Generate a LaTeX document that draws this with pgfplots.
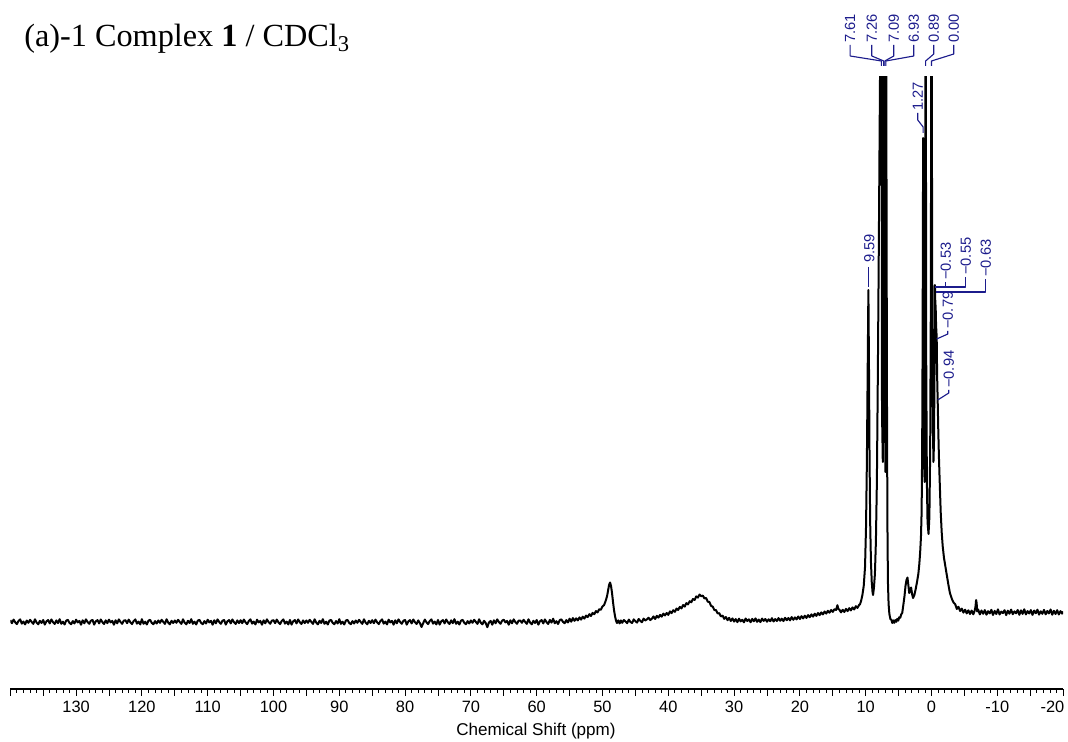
\documentclass[border=0pt]{standalone}
\usepackage{fontspec}
\setmainfont{Liberation Sans}
\newfontfamily\titlefont{Liberation Serif}
\usepackage{pgfplots}
\pgfplotsset{compat=1.18}
\usepackage{pgfplotstable}
\definecolor{peaklabel}{RGB}{28,28,140}

% 1H spectrum: chemical shift (ppm) and intensity (arbitrary units)
\pgfplotstableread[row sep=\\]{
ppm I\\
140 1.8\\139.75 -1.2\\139.5 2.4\\139.25 -0.3\\139 -2.1\\138.75 1.0\\138.5 2.6\\138.25 -1.6\\138 0.4\\137.75 -2.4\\
137.5 1.5\\137.25 -0.8\\137 2.2\\136.75 0.1\\136.5 -1.9\\136.25 2.7\\136 -0.6\\135.75 -2.3\\135.5 1.2\\135.25 -1.0\\
135 2.0\\134.75 -2.6\\134.5 0.7\\134.25 1.9\\134 -1.4\\133.75 2.5\\133.5 -0.2\\133.25 -2.0\\133 1.6\\132.75 -1.1\\
132.5 2.8\\132.25 -1.8\\132 0.3\\131.75 -2.5\\131.5 1.4\\131.25 2.1\\131 -0.9\\130.75 -2.2\\130.5 0.9\\130.25 -1.5\\
130 2.3\\129.75 -0.4\\129.5 1.1\\129.25 -2.7\\129 1.7\\128.75 -1.3\\128.5 2.6\\128.25 0.0\\128 -1.8\\127.75 1.3\\
127.5 2.0\\127.25 -2.6\\127 0.7\\126.75 1.9\\126.5 -1.4\\126.25 2.5\\126 -0.2\\125.75 -2.0\\125.5 1.6\\125.25 -1.1\\
125 2.3\\124.75 -0.4\\124.5 1.1\\124.25 -2.7\\124 1.7\\123.75 -1.3\\123.5 2.6\\123.25 0.0\\123 -1.8\\122.75 1.3\\
122.5 1.8\\122.25 -1.2\\122 2.4\\121.75 -0.3\\121.5 -2.1\\121.25 1.0\\121 2.6\\120.75 -1.6\\120.5 0.4\\120.25 -2.4\\
120 2.8\\119.75 -1.8\\119.5 0.3\\119.25 -2.5\\119 1.4\\118.75 2.1\\118.5 -0.9\\118.25 -2.2\\118 0.9\\117.75 -1.5\\
117.5 1.5\\117.25 -0.8\\117 2.2\\116.75 0.1\\116.5 -1.9\\116.25 2.7\\116 -0.6\\115.75 -2.3\\115.5 1.2\\115.25 -1.0\\
115 1.5\\114.75 -0.8\\114.5 2.2\\114.25 0.1\\114 -1.9\\113.75 2.7\\113.5 -0.6\\113.25 -2.3\\113 1.2\\112.75 -1.0\\
112.5 2.8\\112.25 -1.8\\112 0.3\\111.75 -2.5\\111.5 1.4\\111.25 2.1\\111 -0.9\\110.75 -2.2\\110.5 0.9\\110.25 -1.5\\
110 2.3\\109.75 -0.4\\109.5 1.1\\109.25 -2.7\\109 1.7\\108.75 -1.3\\108.5 2.6\\108.25 0.0\\108 -1.8\\107.75 1.3\\
107.5 2.0\\107.25 -2.6\\107 0.7\\106.75 1.9\\106.5 -1.4\\106.25 2.5\\106 -0.2\\105.75 -2.0\\105.5 1.6\\105.25 -1.1\\
105 1.8\\104.75 -1.2\\104.5 2.4\\104.25 -0.3\\104 -2.1\\103.75 1.0\\103.5 2.6\\103.25 -1.6\\103 0.4\\102.75 -2.4\\
102.5 2.3\\102.25 -0.4\\102 1.1\\101.75 -2.7\\101.5 1.7\\101.25 -1.3\\101 2.6\\100.75 0.0\\100.5 -1.8\\100.25 1.3\\
100 1.8\\99.75 -1.2\\99.5 2.4\\99.25 -0.3\\99 -2.1\\98.75 1.0\\98.5 2.6\\98.25 -1.6\\98 0.4\\97.75 -2.4\\
97.5 2.0\\97.25 -2.6\\97 0.7\\96.75 1.9\\96.5 -1.4\\96.25 2.5\\96 -0.2\\95.75 -2.0\\95.5 1.6\\95.25 -1.1\\
95 1.5\\94.75 -0.8\\94.5 2.2\\94.25 0.1\\94 -1.9\\93.75 2.7\\93.5 -0.6\\93.25 -2.3\\93 1.2\\92.75 -1.0\\
92.5 2.8\\92.25 -1.8\\92 0.3\\91.75 -2.5\\91.5 1.4\\91.25 2.1\\91 -0.9\\90.75 -2.2\\90.5 0.9\\90.25 -1.5\\
90 2.8\\89.75 -1.8\\89.5 0.3\\89.25 -2.5\\89 1.4\\88.75 2.1\\88.5 -0.9\\88.25 -2.2\\88 0.9\\87.75 -1.5\\
87.5 1.5\\87.25 -0.8\\87 2.2\\86.75 0.1\\86.5 -1.9\\86.25 2.7\\86 -0.6\\85.75 -2.3\\85.5 1.2\\85.25 -1.0\\
85 1.8\\84.75 -1.2\\84.5 2.4\\84.25 -0.3\\84 -2.1\\83.75 1.0\\83.5 2.6\\83.25 -1.6\\83 0.4\\82.75 -2.4\\
82.5 2.3\\82.25 -0.4\\82 1.1\\81.75 -2.7\\81.5 1.7\\81.25 -1.3\\81 2.6\\80.75 0.0\\80.5 -1.8\\80.25 1.3\\
80 2.0\\79.75 -2.6\\79.5 0.7\\79.25 1.9\\79 -1.4\\78.75 2.5\\78.5 -0.2\\78.25 -2.0\\78 1.6\\77.75 -1.1\\
77.5 -5.0\\77.25 -1.2\\77 2.4\\76.75 -0.3\\76.5 -2.1\\76.25 1.0\\76 2.6\\75.75 -1.6\\75.5 0.4\\75.25 -2.4\\
75 2.0\\74.75 -2.6\\74.5 0.7\\74.25 1.9\\74 -1.4\\73.75 2.5\\73.5 -0.2\\73.25 -2.0\\73 1.6\\72.75 -1.1\\
72.5 2.8\\72.25 -1.8\\72 0.3\\71.75 -2.5\\71.5 1.4\\71.25 2.1\\71 -0.9\\70.75 -2.2\\70.5 0.9\\70.25 -1.5\\
70 1.5\\69.75 -0.8\\69.5 2.2\\69.25 0.1\\69 -1.9\\68.75 2.7\\68.5 -0.6\\68.25 -2.3\\68 1.2\\67.75 -1.0\\
67.5 -5.2\\67.25 -0.4\\67 1.1\\66.75 -2.7\\66.5 1.7\\66.25 -1.3\\66 2.6\\65.75 0.0\\65.5 -1.8\\65.25 1.3\\
65 2.3\\64.75 -0.4\\64.5 1.1\\64.25 -2.7\\64 1.7\\63.75 -1.3\\63.5 2.6\\63.25 0.0\\63 -1.8\\62.75 1.3\\
62.5 1.5\\62.25 -0.8\\62 2.2\\61.75 0.1\\61.5 -1.9\\61.25 2.7\\61 -0.6\\60.75 -2.3\\60.5 1.2\\60.25 -1.0\\
60 2.0\\59.75 -2.6\\59.5 0.7\\59.25 1.9\\59 -1.4\\58.75 2.5\\58.5 -0.2\\58.25 -2.0\\58 2.1\\57.75 -0.6\\
57.5 3.3\\57.25 -1.3\\57 0.8\\56.75 -2.0\\56.5 1.9\\56.25 2.6\\56 0.1\\55.75 -1.2\\55.5 1.9\\55.25 -0.5\\
55 3.3\\54.75 0.3\\54.5 3.9\\54.25 1.2\\
54 3.6\\53.75 1.6\\53.5 4.6\\53.25 2.4\\53 5.3\\52.75 3.4\\52.5 6.4\\52.25 4.9\\52 7.8\\51.75 6.0\\
51.5 9.1\\51.25 7.8\\51 10.9\\50.75 9.6\\50.5 12.8\\50.25 12.2\\50 15.5\\49.75 17.0\\49.5 21.5\\49.3 26.0\\
49.15 31.5\\49 37.0\\48.85 39.5\\48.7 36.0\\48.55 29.0\\48.4 20.0\\48.25 12.0\\48.1 6.0\\47.95 1.5\\47.8 -1.0\\
47.6 1.6\\47.4 -1.4\\47.2 1.5\\
47 -0.8\\46.75 2.0\\46.5 0.4\\46.25 -1.2\\46 2.4\\45.75 0.0\\45.5 -1.0\\45.25 2.6\\45 0.8\\44.75 -0.6\\
44.5 3.0\\44.25 1.1\\44 -0.2\\43.75 3.4\\43.5 1.5\\43.25 2.6\\43 4.3\\42.75 1.9\\42.5 3.2\\42.25 5.6\\
42 3.0\\41.75 6.2\\41.5 4.4\\41.25 7.1\\41 5.3\\40.75 8.4\\40.5 6.6\\40.25 9.0\\40 7.1\\39.75 10.6\\
39.5 8.9\\39.25 11.8\\39 10.2\\38.75 13.5\\38.5 12.0\\38.25 15.1\\38 13.6\\37.75 17.0\\37.5 15.4\\37.25 18.9\\
37 17.6\\36.75 20.8\\36.5 19.7\\36.25 23.0\\36 22.1\\35.75 25.6\\35.5 24.4\\35.25 27.5\\35 25.8\\34.75 26.4\\
34.5 23.5\\34.25 24.0\\34 20.3\\33.75 20.0\\33.5 16.1\\33.25 15.4\\33 12.0\\32.75 11.9\\32.5 8.6\\32.25 8.8\\
32 5.6\\31.75 6.4\\31.5 3.1\\31.25 5.0\\31 1.8\\30.75 4.1\\30.5 1.0\\30.25 3.6\\30 0.4\\29.75 2.9\\
29.5 -0.1\\29.25 3.3\\29 0.6\\28.75 2.2\\28.5 -0.3\\28.25 3.5\\28 1.0\\27.75 2.6\\27.5 -0.2\\27.25 3.1\\
27 0.7\\26.75 3.6\\26.5 0.2\\26.25 2.4\\26 -0.1\\25.75 3.4\\25.5 1.1\\25.25 3.0\\25 0.3\\24.75 2.7\\
24.5 0.8\\24.25 3.8\\24 0.5\\23.75 2.9\\23.5 1.0\\23.25 3.9\\23 1.2\\22.75 3.3\\22.5 0.9\\22.25 4.2\\
22 1.8\\21.75 4.0\\21.5 1.6\\21.25 4.9\\21 2.2\\20.75 4.6\\20.5 2.6\\20.25 5.5\\20 3.0\\19.75 5.8\\
19.5 3.6\\19.25 6.3\\19 4.1\\18.75 6.9\\18.5 4.8\\18.25 7.6\\18 5.4\\17.75 8.3\\17.5 6.1\\17.25 9.0\\
17 6.9\\16.75 9.6\\16.5 7.6\\16.25 10.5\\16 8.4\\15.75 11.2\\15.5 9.3\\15.25 12.0\\15 10.1\\14.75 12.8\\
14.5 12.0\\14.3 16.8\\14.15 13.0\\14 12.4\\13.75 9.6\\13.5 12.2\\13.25 10.0\\13 13.1\\12.75 10.9\\12.5 13.8\\
12.25 11.6\\12 14.6\\11.75 12.5\\11.5 15.8\\11.25 14.1\\11 17.0\\10.85 18.0\\10.7 21.0\\10.5 27.0\\10.3 36.0\\
10.1 55.0\\9.95 95.0\\9.82 160.0\\9.7 250.0\\9.59 332.0\\9.5 255.0\\9.42 170.0\\9.32 100.0\\9.2 60.0\\9.08 40.0\\
8.96 30.0\\8.88 27.0\\8.75 34.0\\8.6 48.0\\8.45 80.0\\8.3 140.0\\8.15 250.0\\8 380.0\\7.85 520.0\\7.72 640.0\\
7.61 720.0\\7.52 210.0\\7.4 160.0\\7.26 720.0\\7.17 180.0\\7.09 720.0\\7.01 150.0\\6.93 720.0\\6.85 480.0\\6.77 230.0\\
6.7 100.0\\6.62 40.0\\6.52 18.0\\6.4 8.0\\6.25 3.0\\6.1 2.2\\5.95 -1.0\\5.8 1.6\\5.65 -0.8\\5.5 1.9\\
5.35 0.2\\5.2 3.1\\5.05 1.4\\4.9 4.8\\4.75 4.2\\4.6 7.6\\4.45 9.0\\4.3 16.0\\4.1 26.0\\3.95 36.0\\
3.8 42.0\\3.65 44.5\\3.5 36.0\\3.38 29.0\\3.25 31.0\\3.1 34.5\\2.95 28.0\\2.8 24.0\\2.6 27.0\\2.4 33.0\\
2.2 40.0\\2 48.0\\1.85 58.0\\1.72 70.0\\1.6 85.0\\1.5 110.0\\1.42 170.0\\1.35 280.0\\1.27 484.0\\1.2 300.0\\
1.13 170.0\\1.05 140.0\\0.98 220.0\\0.89 720.0\\0.8 260.0\\0.7 140.0\\0.6 100.0\\0.45 88.0\\0.32 105.0\\0.2 170.0\\
0.1 320.0\\0 720.0\\-0.1 360.0\\-0.2 200.0\\-0.3 160.0\\-0.38 180.0\\-0.46 250.0\\-0.53 337.0\\-0.55 326.0\\-0.59 318.0\\
-0.63 316.0\\-0.7 296.0\\-0.79 285.0\\-0.86 245.0\\-0.94 222.0\\-1.03 192.0\\-1.13 165.0\\-1.25 140.0\\-1.4 110.0\\-1.55 90.0\\
-1.7 76.0\\-1.9 64.0\\-2.1 56.0\\-2.3 48.0\\-2.55 38.0\\-2.8 29.0\\-3.1 23.0\\-3.35 19.5\\-3.6 17.8\\-3.85 13.0\\
-4.1 15.2\\-4.35 11.0\\-4.6 13.4\\-4.85 9.4\\-5.1 12.3\\-5.35 8.6\\-5.6 11.7\\-5.85 8.0\\-6.1 11.4\\-6.35 7.7\\
-6.55 11.0\\-6.68 15.0\\-6.78 22.0\\-6.86 19.0\\-6.95 10.5\\-7.1 12.4\\-7.35 7.6\\-7.6 11.5\\-7.85 8.2\\-8.1 11.9\\
-8.35 7.3\\-8.6 10.8\\-8.85 8.6\\-9.1 12.2\\-9.35 7.0\\-9.6 11.1\\-9.85 8.0\\-10.1 12.6\\-10.35 7.5\\-10.6 10.4\\
-10.85 8.9\\-11.1 11.8\\-11.35 6.9\\-11.6 11.3\\-11.85 8.3\\-12.1 12.4\\-12.35 7.8\\-12.6 10.6\\-12.85 8.7\\-13.1 12.0\\
-13.35 7.2\\-13.6 11.6\\-13.85 8.1\\-14.1 12.7\\-14.35 7.6\\-14.6 10.9\\-14.85 8.5\\-15.1 11.9\\-15.35 7.1\\-15.6 11.4\\
-15.85 8.8\\-16.1 12.3\\-16.35 7.4\\-16.6 10.7\\-16.85 8.2\\-17.1 12.1\\-17.35 7.7\\-17.6 11.0\\-17.85 8.6\\-18.1 12.5\\
-18.35 7.3\\-18.6 11.2\\-18.85 8.0\\-19.1 11.8\\-19.35 7.5\\-19.6 10.9\\-19.85 8.4\\-20 10.5\\
}\spectrum

\tikzset{
  pl/.style={rotate=90, anchor=west, inner sep=0pt, text=peaklabel,
    font=\fontsize{11}{12}\selectfont},
  pc/.style={draw=peaklabel, line width=0.85pt, line join=round},
}

\begin{document}
\begin{tikzpicture}
\path[use as bounding box] (0,0) rectangle (801pt,556.5pt);
\begin{axis}[
  at={(7.725pt,39.75pt)}, anchor=south west,
  scale only axis, width=789.6pt, height=459pt,
  x dir=reverse, xmin=-20, xmax=140, ymin=-67, ymax=545,
  axis x line=bottom, axis y line=none,
  x axis line style={-, line width=0.9pt},
  tick align=outside,
  xtick={-20,-10,...,140},
  xticklabels={{-20\hspace*{16pt}},-10,0,10,20,30,40,50,60,70,80,90,100,110,120,130,{}},
  minor x tick num=9,
  extra x ticks={-15,-5,...,135},
  extra x tick labels={},
  extra x tick style={grid=none, major tick length=5.25pt},
  major tick length=5.25pt, minor tick length=3pt,
  every tick/.append style={black, line width=0.6pt},
  ticklabel style={font=\fontsize{12.3}{14}\selectfont},
  xlabel={Chemical Shift (ppm)},
  xlabel style={font=\fontsize{12.8}{15}\selectfont,
    at={(axis description cs:0.4993,-0.0768)}, anchor=base},
  clip mode=individual,
]
\addplot[black, line width=1.5pt, line join=round] table[x=ppm, y=I] {\spectrum};

% aromatic group and the two upfield singlets at the top
\node[pl] at (axis cs:12.36,579) {7.61};
\draw[pc] (axis cs:12.36,577) -- (axis cs:12.36,566) -- (axis cs:7.61,561) -- (axis cs:7.61,556);
\node[pl] at (axis cs:9.07,579) {7.26};
\draw[pc] (axis cs:9.07,577) -- (axis cs:9.07,566) -- (axis cs:7.26,561) -- (axis cs:7.26,556);
\node[pl] at (axis cs:5.73,579) {7.09};
\draw[pc] (axis cs:5.73,577) -- (axis cs:5.73,566) -- (axis cs:7.09,561) -- (axis cs:7.09,556);
\node[pl] at (axis cs:2.69,579) {6.93};
\draw[pc] (axis cs:2.69,577) -- (axis cs:2.69,566) -- (axis cs:6.93,561) -- (axis cs:6.93,556);
\node[pl] at (axis cs:-0.35,579) {0.89};
\draw[pc] (axis cs:-0.35,577) -- (axis cs:-0.35,568) -- (axis cs:0.89,561) -- (axis cs:0.89,556);
\node[pl] at (axis cs:-3.39,579) {0.00};
\draw[pc] (axis cs:-3.39,577) -- (axis cs:-3.39,568) -- (axis cs:0.00,561) -- (axis cs:0.00,556);
% 1.27
\node[pl] at (axis cs:2.09,511) {1.27};
\draw[pc] (axis cs:2.09,509) -- (axis cs:2.09,502) -- (axis cs:1.27,495) -- (axis cs:1.27,489);
% 9.59
\node[pl] at (axis cs:9.45,359) {9.59};
\draw[pc] (axis cs:9.59,355) -- (axis cs:9.59,335);
% high-field cluster
\node[pl] at (axis cs:-2.17,342) {−0.53};
\draw[pc] (axis cs:-2.17,340) -- (axis cs:-2.17,335) -- (axis cs:-0.53,335);
\node[pl] at (axis cs:-5.21,347) {−0.55};
\draw[pc] (axis cs:-5.21,345) -- (axis cs:-5.21,335) -- (axis cs:-0.55,335);
\node[pl] at (axis cs:-8.25,345) {−0.63};
\draw[pc] (axis cs:-8.25,343) -- (axis cs:-8.25,330) -- (axis cs:-0.63,330);
\node[pl] at (axis cs:-2.48,293) {−0.79};
\draw[pc] (axis cs:-2.48,291) -- (axis cs:-2.48,288) -- (axis cs:-0.79,283);
\node[pl] at (axis cs:-2.63,234) {−0.94};
\draw[pc] (axis cs:-2.63,232) -- (axis cs:-2.63,229) -- (axis cs:-0.94,222);
\end{axis}
\node[anchor=base west, inner sep=0pt, font=\titlefont\fontsize{24.2}{29}\selectfont]
  at (18pt,521.25pt) {(a)-1 Complex \textbf{1} / CDCl\textsubscript{3}};
\end{tikzpicture}
\end{document}
